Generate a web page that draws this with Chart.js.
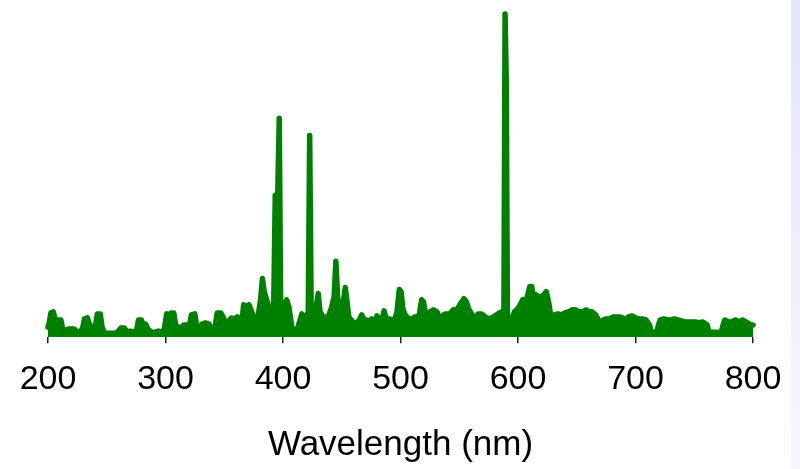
<!DOCTYPE html>
<html>
<head>
<meta charset="utf-8">
<script src="https://cdn.jsdelivr.net/npm/chart.js@4"></script>
<style>
  html, body { margin: 0; padding: 0; background: #fff; }
  #wrap { position: relative; width: 800px; height: 469px; }
  #edge { position: absolute; left: 791px; top: 0; width: 9px; height: 469px;
          background: linear-gradient(#e4e4fa, #f7f7fe); }
</style>
</head>
<body>
<div id="wrap">
  <div id="edge"></div>
  <canvas id="spectrumChart"></canvas>
</div>
<script>
// Spectrum (wavelength in nm, intensity in arbitrary units)
const wavelengths = [
  200, 201, 202.5, 204.5, 206, 207.5, 209, 211, 212.5, 215, 217.5, 220, 222.5, 224.5, 227, 229, 231, 233.5, 235.5, 238,
  240.5, 242, 244.5, 246, 248, 252, 255, 258, 260, 262, 265, 267.5, 270, 273, 275.5, 277, 279.5, 281, 283, 285,
  288, 291, 294, 297, 299, 301, 303, 305, 307, 309, 311, 313, 315.5, 318, 320, 322, 325, 327, 329, 331,
  334, 337, 339, 342, 344, 347, 349, 351, 353, 356, 359, 361, 363, 365, 366.5, 369, 371, 373, 375, 377,
  379, 381, 382.5, 384, 386, 388, 390, 392, 393.4, 395.5,
  396.8, 398, 400, 401.5, 403, 405, 407.5, 410, 412, 414, 416, 418, 419.5, 421.5, 422.7, 424, 425.5, 427, 429, 430,
  431.5, 434, 436, 438, 440, 441.5, 443.5, 445, 446.5, 448.5, 450.5, 452, 453, 454.5, 456, 458, 461, 463, 465, 467,
  469, 471, 473, 475.5, 478, 480, 482.5, 484.5, 486, 488, 491, 493, 495, 497, 499, 500.5, 502, 504, 507, 510,
  512, 514, 516, 518, 519.5, 521, 522.5, 525, 528, 531, 533, 535, 538, 542, 545, 548, 551, 554, 556, 558,
  560, 563, 566, 569, 572, 576, 579, 583, 586, 588, 589, 590, 591, 592.5, 594.6, 597, 599, 601, 604, 606,
  608, 610, 611.6, 613, 615, 617, 620, 622, 624, 626, 628, 631, 634, 637, 640, 643, 646, 649, 652, 655,
  658, 661, 663, 666, 668, 669.5, 671, 672.5, 675, 678, 681, 684, 687, 689, 691, 694, 697, 700, 703, 706,
  709, 712, 713.5, 718, 719.5, 721, 724, 727, 730, 733, 736, 739, 742, 745, 748, 751, 754, 757, 760, 761,
  762.5, 773, 774.5, 776, 779, 782, 785, 788, 791, 794, 797, 800
];
const intensity = [
  10, 14, 24, 25, 18, 10, 17, 17, 8, 7, 8, 8, 8, 5, 6, 6, 18, 19, 12, 10,
  12, 23, 23, 10, 4, 4, 4, 4, 6, 9, 9, 5, 6, 5, 7, 17, 17, 12, 13, 8,
  5, 5, 6, 5, 8, 23, 22, 24, 24, 10, 10, 9, 12, 12, 8, 22, 23, 8, 9, 13,
  14, 13, 8, 9, 24, 24, 20, 14, 15, 19, 18, 20, 18, 14, 32, 30, 32, 26, 20, 18,
  22, 38, 58, 45, 37, 30, 25, 22, 140, 140,
  216, 30, 20, 30, 37, 30, 10, 7, 7, 15, 23, 18, 20, 25, 199, 25, 20, 25, 35, 43,
  25, 20, 20, 18, 25, 30, 40, 75, 40, 20, 25, 40, 49, 35, 20, 17, 13, 15, 17, 22,
  17, 17, 15, 18, 14, 21, 17, 18, 26, 18, 18, 17, 17, 25, 47, 45, 28, 22, 18, 18,
  20, 20, 22, 37, 35, 25, 20, 25, 27, 25, 20, 20, 23, 23, 27, 27, 33, 38, 35, 28,
  24, 17, 23, 23, 20, 18, 20, 23, 25, 22, 319, 252, 22, 15, 17, 25, 27, 30, 37, 35,
  40, 50, 50, 40, 42, 40, 40, 42, 45, 35, 20, 22, 23, 22, 24, 25, 27, 27, 25, 25,
  27, 25, 25, 22, 18, 5, 5, 17, 18, 18, 20, 20, 20, 19, 17, 20, 21, 19, 18, 18,
  17, 12, 5, 5, 12, 17, 18, 17, 17, 18, 17, 16, 15, 15, 15, 15, 14, 15, 13, 12,
  5, 5, 12, 17, 15, 15, 17, 15, 17, 15, 13, 12
];
const xTicks = [200, 300, 400, 500, 600, 700, 800];

const points = wavelengths.map((w, i) => ({ x: w, y: intensity[i] }));

const ctx = document.getElementById('spectrumChart').getContext('2d');
new Chart(ctx, {
    type: 'line',
    data: {
        datasets: [{
            data: points,
            borderColor: '#008000',
            backgroundColor: '#008000',
            borderWidth: 5.5,
            borderJoinStyle: 'round',
            borderCapStyle: 'round',
            fill: 'origin',
            pointRadius: 0,
            tension: 0,
            clip: false
        }]
    },
    options: {
        responsive: true,
        maintainAspectRatio: false,
        animation: false,
        layout: {
            padding: { left: 48, right: 47, top: 13, bottom: 3 }
        },
        plugins: {
            legend: { display: false },
            tooltip: { enabled: false }
        },
        scales: {
            x: {
                type: 'linear',
                min: 200,
                max: 800,
                afterBuildTicks: axis => {
                    axis.ticks = xTicks.map(v => ({ value: v }));
                },
                border: { display: false },
                grid: {
                    drawOnChartArea: false,
                    drawTicks: true,
                    tickLength: 6,
                    color: '#222',
                    lineWidth: 1.5
                },
                ticks: {
                    color: '#000',
                    padding: 16,
                    maxRotation: 0,
                    font: { family: '"Liberation Sans", Arial, sans-serif', size: 34 }
                },
                title: {
                    display: true,
                    text: 'Wavelength (nm)',
                    color: '#000',
                    padding: { top: 8, bottom: 0 },
                    font: { family: '"Liberation Sans", Arial, sans-serif', size: 35 }
                }
            },
            y: {
                display: false,
                min: 0,
                max: 320
            }
        }
    }
});
</script>
</body>
</html>
